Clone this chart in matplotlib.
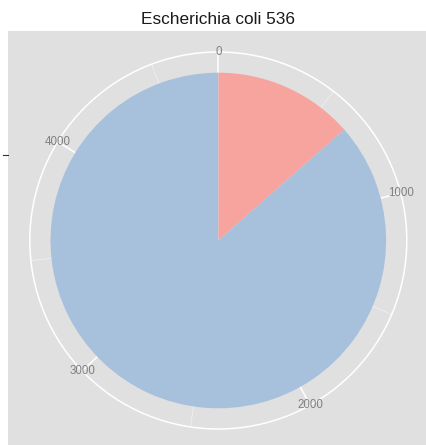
import matplotlib
matplotlib.use("Agg")
import matplotlib.pyplot as plt
import numpy as np
from matplotlib.patches import Rectangle
from matplotlib.lines import Line2D

plt.rcParams['font.family'] = ['Liberation Sans', 'DejaVu Sans']

# data
title = "Escherichia coli 536"
groups = ["a", "b"]
counts = [645, 4130]
colors = ["#F7A49F", "#A7C1DD"]
major_ticks = [0, 1000, 2000, 3000, 4000]
minor_ticks = [500, 1500, 2500, 3500, 4500]

W, H = 426, 445
fig = plt.figure(figsize=(W / 100, H / 100), dpi=100)

# grey panel (ggplot style)
panel_bg = "#E0E0E0"
fig.patches.append(Rectangle((8 / W, 0), 418 / W, 414 / H, transform=fig.transFigure,
                             facecolor=panel_bg, edgecolor="none", zorder=-5))

# polar axes: centre (218.3, 240.5 from top), outer circle radius 188.5 px
cx, cy, ro = 218.3, H - 240.5, 188.5
ax = fig.add_axes([(cx - ro) / W, (cy - ro) / H, 2 * ro / W, 2 * ro / H], projection="polar")
ax.set_zorder(2)
ax.set_facecolor(panel_bg)
ax.set_theta_zero_location("N")
ax.set_theta_direction(-1)

total = sum(counts)
to_theta = lambda v: np.asarray(v) / total * 2 * np.pi

starts = np.cumsum([0] + counts[:-1])
ax.bar(to_theta(starts), 1.0, width=to_theta(counts), bottom=0, align="edge",
       color=colors, edgecolor="none", zorder=3)

rmax = ro / 167.8
ax.set_ylim(0, rmax)
ax.set_yticks([])
ax.set_xticks(to_theta(major_ticks))
ax.set_xticklabels([])
ax.set_xticks(to_theta(minor_ticks), minor=True)
ax.xaxis.grid(True, which="major", color="white", lw=1.1, zorder=1)
ax.xaxis.grid(True, which="minor", color="#F2F2F2", lw=0.5, zorder=1)
ax.set_axisbelow(True)
ax.tick_params(axis="x", which="both", length=0)
ax.spines["polar"].set_color("white")
ax.spines["polar"].set_linewidth(1.1)

# theta labels centred on the outer circle, like coord_polar
for t in major_ticks:
    ax.text(to_theta(t), rmax, str(t), ha="center", va="center", fontsize=8.3,
            color="#808080", zorder=10, clip_on=False)

# single r-axis tick on the left edge of the panel
fig.lines.append(Line2D([3 / W, 8 / W], [(H - 155) / H] * 2, transform=fig.transFigure,
                        color="#333333", lw=0.8))

fig.text(218 / W, (H - 20) / H, title, ha="center", va="center", fontsize=12.4, color="#1A1A1A")

fig.savefig("out.png", dpi=100)
